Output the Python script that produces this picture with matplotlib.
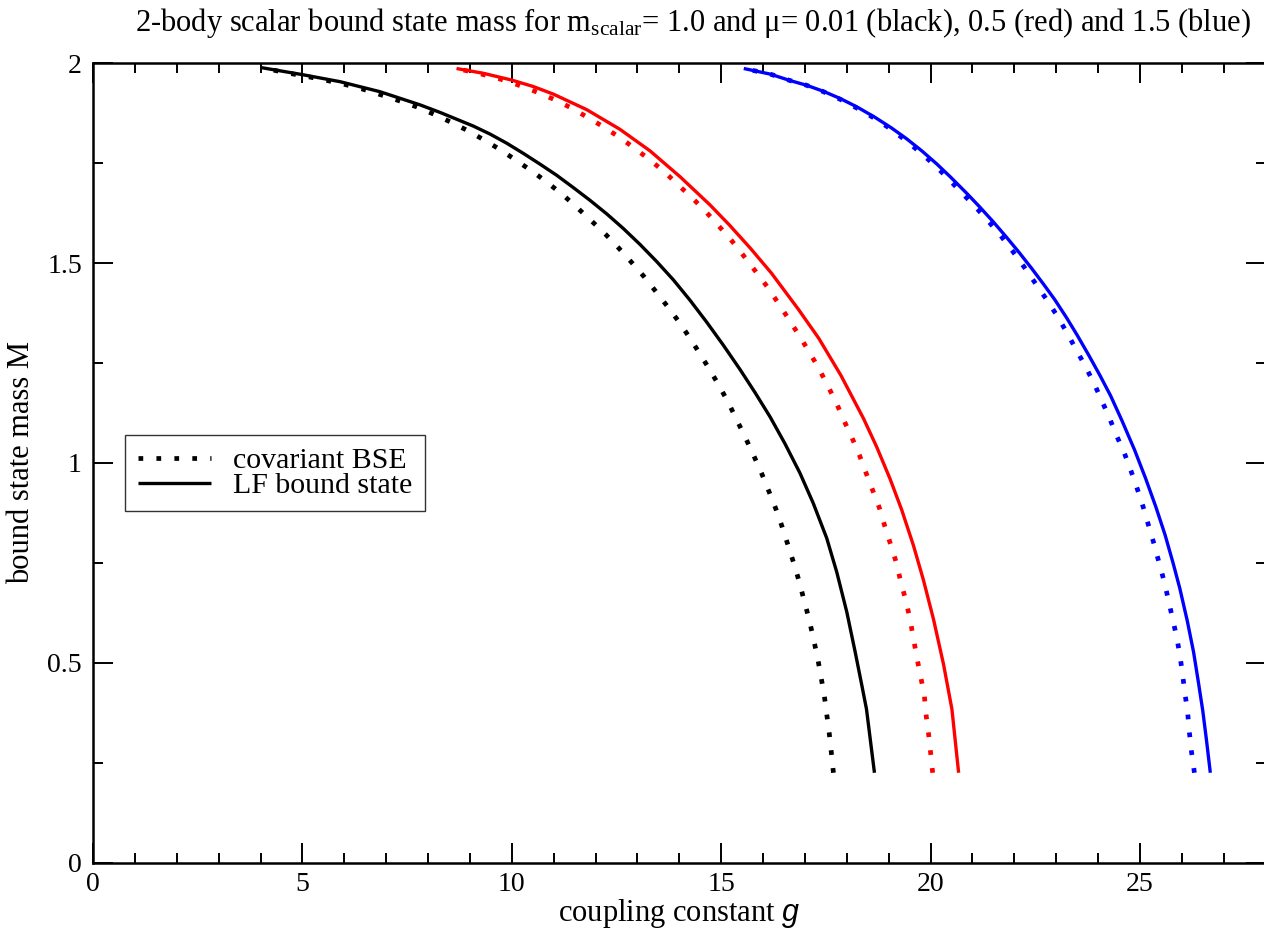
import matplotlib
matplotlib.use("Agg")
import matplotlib.pyplot as plt
from matplotlib.lines import Line2D
from matplotlib.ticker import MultipleLocator

plt.rcParams['font.family'] = ['Liberation Serif', 'DejaVu Serif']
plt.rcParams['mathtext.fontset'] = 'custom'
plt.rcParams['mathtext.rm'] = 'Liberation Serif'
plt.rcParams['mathtext.it'] = 'Liberation Serif:italic'
plt.rcParams['mathtext.sf'] = 'Liberation Sans:italic'

# mu = 0.01 (black)
g_lf_black = [4.03, 4.98, 5.90, 6.85, 7.81, 8.29, 9.08, 9.48, 9.88, 10.27, 10.67, 11.07,
              11.47, 11.87, 12.27, 12.66, 13.06, 13.46, 13.86, 14.25, 14.65, 15.05,
              15.45, 15.81, 16.17, 16.52, 16.88, 17.20, 17.52, 17.76, 18.00, 18.20,
              18.36, 18.47, 18.66]
M_lf_black = [1.989, 1.972, 1.954, 1.929, 1.896, 1.877, 1.843, 1.823, 1.800, 1.775, 1.748,
              1.720, 1.689, 1.657, 1.623, 1.587, 1.547, 1.504, 1.458, 1.408, 1.353, 1.295,
              1.234, 1.176, 1.115, 1.049, 0.975, 0.899, 0.812, 0.727, 0.627, 0.527,
              0.443, 0.384, 0.225]
g_bse_black = [4.03, 4.58, 5.06, 5.50, 5.98, 6.42, 6.85, 7.29, 7.73, 8.13, 8.54, 8.96,
               9.34, 9.74, 10.12, 10.50, 10.87, 11.23, 11.56, 11.91, 12.24, 12.56, 12.86,
               13.16, 13.44, 13.73, 14.00, 14.25, 14.50, 14.74, 14.97, 15.19, 15.38,
               15.59, 15.78, 15.97, 16.14, 16.31, 16.46, 16.60, 16.74, 16.87, 16.98,
               17.10, 17.20, 17.30, 17.38, 17.46, 17.52, 17.58, 17.63, 17.68]
M_bse_black = [1.989, 1.977, 1.968, 1.959, 1.948, 1.936, 1.922, 1.907, 1.891, 1.873, 1.853,
               1.831, 1.808, 1.783, 1.756, 1.729, 1.700, 1.670, 1.639, 1.605, 1.572, 1.537,
               1.502, 1.466, 1.429, 1.390, 1.352, 1.313, 1.272, 1.231, 1.190, 1.147, 1.106,
               1.061, 1.018, 0.973, 0.929, 0.884, 0.839, 0.793, 0.747, 0.701, 0.656,
               0.609, 0.562, 0.514, 0.467, 0.420, 0.372, 0.324, 0.276, 0.225]

# mu = 0.5 (red)
g_lf_red = [8.68, 9.32, 10.00, 10.51, 10.99, 11.79, 12.58, 13.30, 14.02, 14.73, 15.20,
            15.70, 16.20, 16.84, 17.33, 17.86, 18.40, 18.71, 19.03, 19.31, 19.59, 19.83,
            20.07, 20.31, 20.51, 20.67]
M_lf_red = [1.987, 1.975, 1.958, 1.942, 1.923, 1.884, 1.835, 1.781, 1.716, 1.646, 1.595,
            1.537, 1.475, 1.385, 1.312, 1.219, 1.111, 1.041, 0.961, 0.883, 0.794, 0.707,
            0.609, 0.496, 0.384, 0.225]
g_bse_red = [8.68, 9.24, 9.68, 10.12, 10.55, 10.98, 11.39, 11.79, 12.19, 12.57, 12.94,
             13.30, 13.66, 13.99, 14.33, 14.65, 14.95, 15.26, 15.54, 15.81, 16.10, 16.35,
             16.60, 16.85, 17.09, 17.33, 17.53, 17.74, 17.92, 18.12, 18.30, 18.46, 18.62,
             18.78, 18.91, 19.05, 19.19, 19.29, 19.41, 19.51, 19.59, 19.67, 19.76, 19.85,
             19.89, 19.95, 20.00, 20.05]
M_bse_red = [1.987, 1.974, 1.962, 1.947, 1.930, 1.911, 1.890, 1.866, 1.841, 1.815, 1.787,
             1.758, 1.727, 1.694, 1.661, 1.627, 1.592, 1.555, 1.518, 1.481, 1.441, 1.402,
             1.362, 1.321, 1.280, 1.237, 1.196, 1.153, 1.109, 1.064, 1.020, 0.975, 0.931,
             0.887, 0.841, 0.795, 0.748, 0.702, 0.656, 0.609, 0.562, 0.515, 0.467, 0.420,
             0.372, 0.324, 0.276, 0.225]

# mu = 1.5 (blue)
g_lf_blue = [15.54, 16.17, 16.64, 17.04, 17.44, 17.84, 18.24, 18.67, 19.07, 19.43, 19.79,
             20.15, 20.48, 20.87, 21.17, 21.50, 21.82, 22.12, 22.42, 22.70, 22.97, 23.25,
             23.50, 23.77, 24.04, 24.30, 24.57, 24.87, 25.14, 25.38, 25.60, 25.79, 25.95,
             26.13, 26.28, 26.39, 26.50, 26.59, 26.68]
M_lf_blue = [1.987, 1.973, 1.957, 1.945, 1.930, 1.912, 1.891, 1.865, 1.838, 1.811, 1.781,
             1.748, 1.715, 1.674, 1.641, 1.603, 1.564, 1.526, 1.486, 1.447, 1.408, 1.363,
             1.320, 1.271, 1.220, 1.168, 1.106, 1.033, 0.960, 0.890, 0.820, 0.750, 0.687,
             0.605, 0.527, 0.455, 0.380, 0.305, 0.225]
g_bse_blue = [15.54, 16.17, 16.64, 17.04, 17.44, 17.84, 18.24, 18.67, 19.07, 19.43, 19.79,
              20.15, 20.46, 20.82, 21.12, 21.42, 21.71, 21.98, 22.25, 22.52, 22.77, 23.03,
              23.25, 23.47, 23.69, 23.90, 24.08, 24.27, 24.44, 24.63, 24.79, 24.94, 25.08,
              25.21, 25.34, 25.46, 25.58, 25.68, 25.78, 25.88, 25.96, 26.02, 26.08, 26.14,
              26.18, 26.23, 26.30]
M_bse_blue = [1.987, 1.973, 1.957, 1.945, 1.929, 1.910, 1.888, 1.862, 1.834, 1.805, 1.774,
              1.740, 1.707, 1.668, 1.635, 1.600, 1.564, 1.527, 1.488, 1.447, 1.409, 1.367,
              1.327, 1.285, 1.243, 1.200, 1.158, 1.113, 1.069, 1.024, 0.979, 0.934, 0.889,
              0.842, 0.796, 0.749, 0.703, 0.657, 0.610, 0.563, 0.515, 0.468, 0.420, 0.374,
              0.326, 0.278, 0.225]

legend_labels = ["covariant BSE", "LF bound state"]

W, H = 1264, 934
fig = plt.figure(figsize=(W / 100, H / 100), dpi=100)
x0, x1, y0, y1 = 93, 1265.6, 71.3, 870.7
ax = fig.add_axes([x0 / W, y0 / H, (x1 - x0) / W, (y1 - y0) / H])

solid_kw = dict(lw=2.4, solid_capstyle='butt', solid_joinstyle='round')
dot_kw = dict(lw=3.4, linestyle=(0, (1, 2.8)), dash_capstyle='butt')

for g_lf, M_lf, g_bse, M_bse, col in [
        (g_lf_black, M_lf_black, g_bse_black, M_bse_black, 'black'),
        (g_lf_red, M_lf_red, g_bse_red, M_bse_red, '#ff0000'),
        (g_lf_blue, M_lf_blue, g_bse_blue, M_bse_blue, '#0000ff')]:
    # dotted curves are traced from the lower end so a dot sits on the last point
    ax.plot(g_bse[::-1], M_bse[::-1], color=col, **dot_kw)
    ax.plot(g_lf, M_lf, color=col, **solid_kw)

ax.set_xlim(0, 28)
ax.set_ylim(0, 2)
ax.xaxis.set_major_locator(MultipleLocator(5))
ax.xaxis.set_minor_locator(MultipleLocator(1))
ax.yaxis.set_minor_locator(MultipleLocator(0.25))
ax.set_yticks([0, 0.5, 1, 1.5, 2])
ax.set_yticklabels(['0', '0.5', '1', '1.5', '2'])

for sp in ax.spines.values():
    sp.set_linewidth(1.8)
ax.tick_params(which='both', direction='in', top=True, right=True, width=1.4,
               labelsize=20)
ax.tick_params(which='major', length=14.4)
ax.tick_params(which='minor', length=7.2)
ax.tick_params(axis='x', which='major', pad=7)
ax.tick_params(axis='y', which='major', pad=8)

ax.set_xlabel(r'coupling constant $\mathsf{g}$', fontsize=22, labelpad=0)
ax.set_ylabel('bound state mass M', fontsize=22, labelpad=8)

fig.text(693 / W, 1 - 23 / H,
         r'2-body scalar bound state mass for m$_{\mathrm{scalar}}$= 1.0 and μ= 0.01 (black), 0.5 (red) and 1.5 (blue)',
         ha='center', va='center', fontsize=22)

handles = [Line2D([], [], color='black', **dot_kw),
           Line2D([], [], color='black', **solid_kw)]
leg = ax.legend(handles, legend_labels, loc='upper left',
                bbox_to_anchor=((125 - x0) / (x1 - x0), (H - 435 - y0) / (y1 - y0)),
                borderaxespad=0, fontsize=21.5, frameon=True, fancybox=False,
                handlelength=2.45, handletextpad=0.75, borderpad=0.42,
                labelspacing=-0.08)
leg.get_frame().set_edgecolor('black')
leg.get_frame().set_linewidth(1.0)

fig.savefig('out.png', dpi=100)
